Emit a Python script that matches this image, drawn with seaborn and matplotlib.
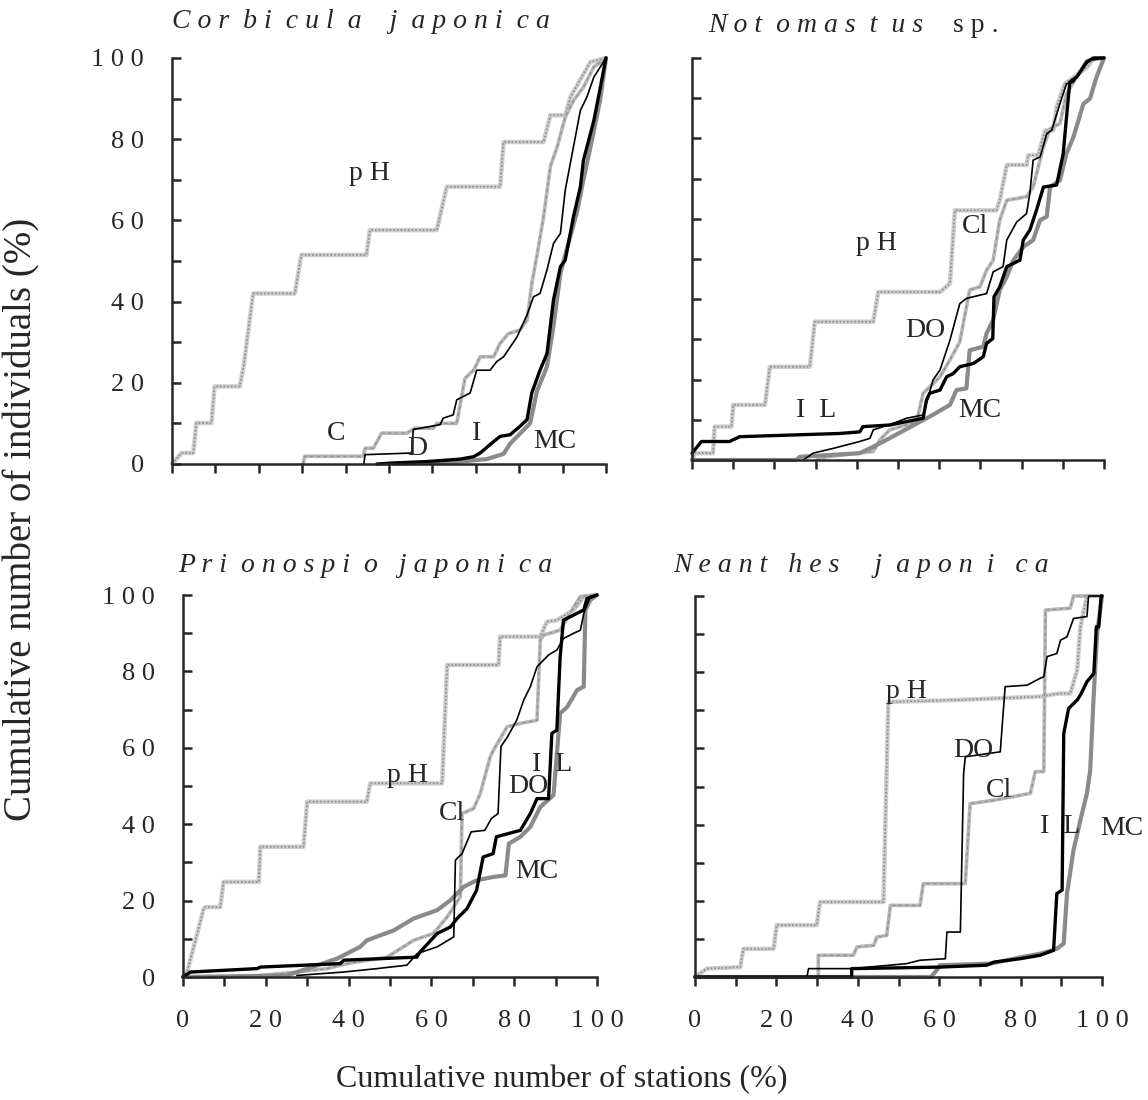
import matplotlib
matplotlib.use("Agg")
import matplotlib.pyplot as plt
import seaborn as sns
import pandas as pd

# values
# x: cumulative number of stations (%), y: cumulative number of individuals (%)

# Corbicula japonica
corb_ph_x = [0, 2.2, 4.9, 5.6, 9.1, 9.8, 15.6, 16.5, 18.7, 28.3, 29.8, 44.8, 45.6, 61.0, 63.3, 75.6, 76.4, 85.6, 87.2, 90.6, 91.8, 96.4, 100]
corb_ph_y = [0, 2.7, 2.7, 10.1, 10.1, 19.1, 19.1, 24.0, 42.0, 42.0, 51.5, 51.5, 57.6, 57.6, 68.3, 68.3, 79.3, 79.3, 85.9, 85.9, 90.4, 99.0, 100]
corb_cl_x = [30.2, 30.6, 44.1, 44.5, 46.4, 48.3, 54.1, 56.0, 60.2, 61.0, 65.6, 67.5, 69.5, 71.0, 74.1, 75.6, 77.5, 80.2, 81.8, 82.9, 84.1, 85.6, 87.2, 88.7, 90.6, 92.5, 94.8, 97.2, 100]
corb_cl_y = [0, 1.9, 1.9, 3.9, 3.9, 7.6, 7.6, 8.8, 8.8, 10.0, 10.0, 21.1, 23.1, 26.4, 26.4, 29.7, 32.1, 33.0, 35.4, 44.4, 51.4, 60.8, 73.4, 77.9, 85.4, 89.5, 92.8, 97.8, 100]
corb_do_x = [44.2, 44.5, 55.2, 55.6, 61.8, 62.5, 64.8, 65.6, 68.7, 70.2, 73.3, 74.8, 76.4, 79.5, 80.2, 81.8, 83.3, 84.8, 86.4, 87.9, 89.5, 90.6, 92.5, 94.1, 95.6, 97.2, 100]
corb_do_y = [0, 2.3, 2.7, 8.5, 9.7, 11.3, 12.1, 15.8, 17.5, 23.1, 23.1, 25.2, 26.4, 31.3, 33.0, 36.7, 41.2, 42.0, 47.8, 54.3, 56.8, 67.4, 78.1, 87.1, 90.4, 95.3, 100]
corb_il_x = [47.2, 51.0, 58.7, 66.4, 69.5, 71.0, 73.3, 75.6, 77.9, 80.2, 81.8, 82.9, 84.8, 86.4, 87.9, 89.5, 90.6, 92.5, 94.1, 94.8, 97.2, 98.7, 100]
corb_il_y = [0, 0.25, 0.6, 1.2, 1.8, 2.7, 4.8, 6.8, 7.2, 9.3, 10.9, 17.5, 23.1, 27.2, 40.4, 48.6, 50.2, 60.9, 68.3, 74.8, 84.6, 92.8, 100]
corb_mc_x = [51.0, 66.4, 72.5, 76.4, 77.9, 80.2, 82.5, 84.1, 86.4, 87.9, 89.5, 91.0, 93.3, 94.8, 97.2, 98.7, 100]
corb_mc_y = [0, 0.6, 1.2, 2.5, 5.0, 7.5, 10.0, 18.0, 24.0, 34.0, 47.0, 53.0, 62.0, 70.0, 82.0, 90.0, 100]

# Notomastus sp.
noto_ph_x = [0, 0.65, 5.1, 5.5, 9.6, 10.0, 17.7, 18.9, 28.6, 29.8, 44.0, 45.2, 60.2, 62.6, 63.8, 73.9, 74.7, 76.4, 81.2, 81.6, 84.0, 85.7, 87.7, 88.5, 90.5, 95.8, 97.4, 100]
noto_ph_y = [0, 1.7, 1.7, 8.3, 8.3, 13.7, 13.7, 23.2, 23.2, 34.4, 34.4, 41.8, 41.8, 43.9, 62.1, 62.1, 64.6, 73.4, 73.4, 75.8, 75.8, 82.0, 82.0, 87.8, 93.6, 97.6, 99.8, 100]
noto_cl_x = [30.2, 32.6, 44.0, 45.6, 48.0, 54.5, 56.1, 57.7, 60.2, 62.6, 65.0, 67.4, 69.9, 71.5, 73.1, 74.7, 76.4, 81.2, 82.8, 85.3, 86.9, 89.3, 90.9, 92.6, 95.8, 100]
noto_cl_y = [0, 0.8, 2.1, 5.0, 7.5, 9.5, 16.6, 18.2, 20.7, 24.9, 29.4, 42.3, 43.1, 47.2, 49.7, 59.7, 64.6, 65.5, 67.9, 77.9, 82.4, 83.7, 91.1, 94.0, 99.4, 100]
noto_do_x = [27.0, 29.4, 34.3, 40.7, 43.2, 44.0, 48.8, 52.1, 56.1, 58.5, 60.2, 62.6, 65.0, 66.6, 71.5, 73.1, 75.5, 76.4, 78.8, 81.2, 82.0, 82.8, 84.5, 86.1, 87.3, 89.3, 90.9, 92.6, 95.0, 96.6, 100]
noto_do_y = [0, 1.7, 2.9, 4.6, 5.4, 7.5, 9.1, 10.4, 11.2, 19.9, 22.4, 29.8, 38.9, 40.2, 41.4, 46.8, 48.1, 54.7, 59.2, 61.3, 66.3, 74.6, 75.4, 81.2, 82.0, 88.6, 93.6, 94.0, 97.8, 99.4, 100]
noto_il_x = [0, 2.3, 9.1, 11.6, 35.9, 40.7, 41.5, 48.0, 56.1, 56.9, 57.7, 60.2, 61.8, 63.4, 65.0, 68.3, 70.7, 71.5, 73.0, 73.3, 74.7, 76.4, 79.6, 80.4, 82.0, 83.6, 85.3, 88.5, 90.1, 90.9, 91.7, 93.4, 95.8, 97.4, 100]
noto_il_y = [1.7, 4.6, 4.6, 5.8, 6.6, 7.0, 8.3, 8.7, 10.4, 14.9, 16.6, 17.4, 20.7, 21.5, 23.2, 24.0, 25.7, 29.0, 30.2, 40.6, 43.1, 48.1, 49.7, 54.7, 57.2, 62.1, 67.9, 68.4, 76.2, 85.3, 94.0, 95.3, 99.0, 100, 100]
noto_mc_x = [0, 25.3, 26.2, 40.7, 44.0, 47.2, 55.3, 57.7, 62.6, 64.2, 66.6, 67.4, 70.7, 71.5, 73.1, 74.7, 76.4, 78.0, 80.4, 82.8, 84.5, 86.1, 86.9, 89.3, 90.9, 92.6, 95.0, 96.6, 98.2, 100]
noto_mc_y = [0, 0, 0.8, 1.7, 3.3, 5.0, 9.5, 10.8, 13.7, 17.4, 17.8, 27.3, 28.2, 31.5, 34.8, 42.3, 45.6, 49.7, 53.0, 54.7, 59.7, 60.5, 67.9, 69.6, 76.2, 80.4, 88.6, 89.9, 95.3, 100]

# Prionospio japonica
prio_ph_x = [0, 1.0, 5.0, 5.4, 9.0, 9.8, 18.3, 18.7, 29.1, 30.0, 44.4, 45.2, 62.6, 63.8, 76.2, 76.6, 86.3, 87.9, 90.3, 94.4, 96.8, 100]
prio_ph_y = [0, 1.3, 17.9, 18.3, 18.3, 24.9, 24.9, 34.1, 34.1, 45.9, 45.9, 50.7, 50.7, 81.7, 81.7, 89.1, 89.1, 93.0, 93.4, 96.1, 99.6, 100]
prio_cl_x = [18.7, 27.5, 34.8, 39.6, 49.3, 55.7, 60.5, 63.8, 67.0, 67.4, 70.2, 71.8, 74.2, 75.0, 78.3, 81.5, 85.5, 86.3, 87.1, 91.1, 94.4, 96.0, 100]
prio_cl_y = [0.4, 1.3, 2.2, 3.5, 5.2, 9.6, 11.4, 15.7, 21.0, 42.8, 44.1, 48.0, 57.6, 59.4, 65.5, 66.4, 67.2, 88.2, 89.5, 90.8, 96.9, 99.6, 100]
prio_do_x = [27.5, 38.8, 46.9, 54.1, 56.5, 61.4, 65.4, 65.8, 67.4, 69.6, 72.9, 74.5, 76.1, 76.8, 78.4, 80.6, 82.3, 83.9, 85.5, 88.3, 90.3, 91.9, 94.4, 96.0, 96.8, 98.4, 100]
prio_do_y = [0.4, 1.3, 2.2, 3.1, 6.1, 7.9, 10.5, 30.6, 32.3, 38.0, 38.4, 41.5, 42.8, 60.3, 62.9, 67.2, 72.5, 76.0, 81.2, 84.3, 85.6, 88.6, 90.0, 90.8, 95.2, 99.6, 100]
prio_il_x = [0, 1.8, 17.9, 18.7, 38.0, 38.8, 56.5, 57.3, 61.4, 64.6, 66.2, 68.6, 70.9, 72.5, 74.9, 75.7, 81.5, 83.9, 85.5, 88.3, 89.1, 90.3, 91.1, 91.9, 96.8, 97.6, 100]
prio_il_y = [0, 1.3, 2.2, 2.6, 3.5, 4.4, 5.2, 6.6, 11.4, 13.1, 15.3, 17.9, 22.7, 31.4, 32.3, 36.7, 38.4, 42.8, 46.7, 46.7, 63.8, 64.6, 83.8, 93.4, 96.1, 99.1, 100]
prio_mc_x = [0, 25.1, 37.2, 42.8, 44.4, 50.9, 55.7, 61.4, 64.6, 67.8, 70.9, 75.0, 77.9, 78.7, 81.5, 83.9, 86.3, 89.5, 91.1, 92.8, 95.2, 96.8, 97.2, 98.4, 100]
prio_mc_y = [0, 0.4, 4.8, 7.9, 9.6, 12.2, 15.3, 17.5, 20.1, 23.6, 25.3, 26.2, 26.6, 34.9, 36.7, 39.3, 44.5, 47.6, 69.0, 70.7, 75.1, 76.0, 96.1, 98.7, 100]

# Neanthes japonica
nean_ph_x = [0, 2.9, 11.1, 11.9, 19.3, 20.1, 29.9, 30.7, 46.3, 47.5, 64.3, 84.8, 89.3, 92.2, 93.9, 94.7, 96.3, 100]
nean_ph_y = [0, 2.2, 2.6, 7.4, 7.4, 13.6, 13.6, 19.7, 19.7, 72.2, 72.7, 73.6, 74.4, 74.4, 80.6, 91.9, 100, 100]
nean_cl_x = [30.3, 30.3, 38.9, 39.8, 43.9, 44.7, 47.1, 48.0, 55.3, 56.1, 66.4, 67.6, 73.4, 82.4, 83.6, 85.7, 86.1, 92.2, 93.0, 100]
nean_cl_y = [0, 5.7, 5.7, 7.9, 8.3, 10.5, 10.9, 18.8, 18.8, 24.5, 24.5, 45.5, 46.4, 48.2, 53.9, 53.9, 96.3, 96.8, 100, 100]
nean_do_x = [27.5, 27.9, 38.5, 52.0, 55.3, 61.5, 61.9, 65.2, 66.0, 66.4, 75.0, 76.2, 81.6, 84.8, 85.7, 86.5, 88.9, 89.8, 91.4, 93.0, 96.3, 96.7, 100]
nean_do_y = [0, 2.2, 2.2, 3.5, 4.4, 4.8, 11.8, 11.8, 53.4, 57.8, 59.1, 76.2, 76.6, 78.4, 78.8, 84.1, 84.9, 88.4, 89.3, 94.1, 94.6, 100, 100]
nean_il_x = [0, 38.5, 38.5, 60.2, 71.7, 73.4, 79.9, 84.8, 88.1, 88.9, 90.2, 90.6, 91.8, 93.9, 94.7, 96.3, 98.0, 98.6, 99.2, 99.8, 100]
nean_il_y = [0, 0, 2.2, 2.6, 3.1, 3.9, 4.8, 5.7, 7.0, 21.9, 22.8, 63.9, 70.5, 72.7, 74.0, 77.5, 79.7, 91.9, 91.9, 100, 100]
nean_mc_x = [0, 58.0, 59.4, 60.2, 72.5, 80.7, 84.8, 88.9, 90.6, 91.4, 93.0, 94.7, 96.3, 97.1, 97.9, 98.8, 100]
nean_mc_y = [0, 0, 1.8, 3.1, 3.5, 5.3, 6.1, 7.4, 8.8, 21.9, 33.3, 41.2, 48.2, 54.3, 72.7, 90.2, 100]

ytick_labels = ["0", "", "2 0", "", "4 0", "", "6 0", "", "8 0", "", "1 0 0"]
xtick_labels = ["0", "", "2 0", "", "4 0", "", "6 0", "", "8 0", "", "1 0 0"]

sns.set_style("ticks")
plt.rcParams["font.family"] = ["Liberation Serif", "DejaVu Serif"]

W, H = 1148, 1100
fig = plt.figure(figsize=(W / 100, H / 100), dpi=100)


def px_box(left, top, right, bottom):
    return [left / W, 1 - bottom / H, (right - left) / W, (bottom - top) / H]


# line look for each variable
STYLE = {
    "pH": dict(color="#cdcdcd", lw=3.2, z=2),
    "Cl": dict(color="#b6b6b6", lw=2.6, z=3),
    "MC": dict(color="#8a8a8a", lw=3.0, z=4),
    "DO": dict(color="black", lw=1.2, z=5),
    "IL": dict(color="black", lw=2.4, z=6),
}


def draw_curve(ax, x, y, var):
    df = pd.DataFrame({"x": x, "y": y})
    st = STYLE[var]
    sns.lineplot(data=df, x="x", y="y", sort=False, estimator=None, ax=ax,
                 color=st["color"], lw=st["lw"], zorder=st["z"], clip_on=False)
    if var == "pH":
        ax.plot(df["x"], df["y"], color="#8e8e8e", lw=1.2, ls=(0, (1, 1.2)),
                zorder=st["z"], clip_on=False)
    elif var == "Cl":
        ax.plot(df["x"], df["y"], color="#8e8e8e", lw=0.8, ls=(0, (3, 3)),
                zorder=st["z"], clip_on=False)


def style_axes(ax, left_labels, bottom_labels):
    ax.set_xlim(0, 100)
    ax.set_ylim(0, 100)
    ax.set_xlabel("")
    ax.set_ylabel("")
    sns.despine(ax=ax)
    for s in ("left", "bottom"):
        ax.spines[s].set_linewidth(1.8)
        ax.spines[s].set_zorder(8)
    ax.set_xticks(range(0, 101, 10))
    ax.set_yticks(range(0, 101, 10))
    ax.set_xticklabels(xtick_labels if bottom_labels else [])
    ax.set_yticklabels(ytick_labels if left_labels else [])
    ax.tick_params(axis="x", direction="out", length=6.5, width=1.8, pad=17, labelsize=19)
    ax.tick_params(axis="y", direction="in", length=6.5, width=1.8, pad=20, labelsize=19)
    ax.patch.set_alpha(0)


panels = [
    (px_box(172, 58, 606, 464), True, False,
     {"pH": (corb_ph_x, corb_ph_y), "Cl": (corb_cl_x, corb_cl_y), "MC": (corb_mc_x, corb_mc_y),
      "DO": (corb_do_x, corb_do_y), "IL": (corb_il_x, corb_il_y)},
     [("p H", 45.6, 71.6), ("C", 37.9, 7.6), ("D", 56.4, 3.9), ("I", 70.2, 7.6), ("MC", 88.3, 5.6)]),
    (px_box(692, 58, 1104, 460), False, False,
     {"pH": (noto_ph_x, noto_ph_y), "Cl": (noto_cl_x, noto_cl_y), "MC": (noto_mc_x, noto_mc_y),
      "DO": (noto_do_x, noto_do_y), "IL": (noto_il_x, noto_il_y)},
     [("p H", 44.8, 53.9), ("Cl", 68.7, 58.0), ("DO", 56.5, 32.3), ("I  L", 30.2, 12.4), ("MC", 69.9, 12.4)]),
    (px_box(183, 595, 597, 977), True, True,
     {"pH": (prio_ph_x, prio_ph_y), "Cl": (prio_cl_x, prio_cl_y), "MC": (prio_mc_x, prio_mc_y),
      "DO": (prio_do_x, prio_do_y), "IL": (prio_il_x, prio_il_y)},
     [("p H", 54.1, 52.8), ("Cl", 65.0, 42.8), ("I  L", 89.1, 55.5), ("DO", 83.5, 49.8), ("MC", 85.5, 27.5)]),
    (px_box(695, 596, 1102, 977), False, True,
     {"pH": (nean_ph_x, nean_ph_y), "Cl": (nean_cl_x, nean_cl_y), "MC": (nean_mc_x, nean_mc_y),
      "DO": (nean_do_x, nean_do_y), "IL": (nean_il_x, nean_il_y)},
     [("p H", 52.0, 74.9), ("DO", 68.4, 59.5), ("Cl", 74.6, 49.0), ("I  L", 89.8, 39.4), ("MC", 104.9, 39.0)]),
]

for box, left_lab, bottom_lab, curves, labels in panels:
    ax = fig.add_axes(box)
    for var in ("pH", "Cl", "MC", "DO", "IL"):
        draw_curve(ax, *curves[var], var)
    style_axes(ax, left_lab, bottom_lab)
    for txt, tx, ty in labels:
        ax.text(tx, ty, txt, ha="center", va="center", fontsize=20, zorder=10, clip_on=False)

# panel titles (species names, letter spaced as in the original)
title_kw = dict(fontsize=20, style="italic", va="center", ha="left")
fig.text(172 / W, 1 - 22 / H, "C o r  b i  c u l  a    j  a p o n i  c a", **title_kw)
fig.text(708 / W, 1 - 25 / H, "N o t  o m a s  t  u s", **title_kw)
fig.text(953 / W, 1 - 25 / H, "s p .", fontsize=20, va="center", ha="left")
fig.text(178 / W, 1 - 566 / H, "P r i  o n o s p i  o   j a p o n i  c a", **title_kw)
fig.text(673 / W, 1 - 566 / H, "N e a n t   h e s     j  a p o n  i   c a", **title_kw)

fig.text(562 / W, 1 - 1080 / H, "Cumulative number of stations (%)", fontsize=23,
         ha="center", va="center")
fig.text(22 / W, 1 - 519 / H, "Cumulative number of individuals (%)", fontsize=28,
         ha="center", va="center", rotation=90)

fig.savefig("out.png", dpi=100)
